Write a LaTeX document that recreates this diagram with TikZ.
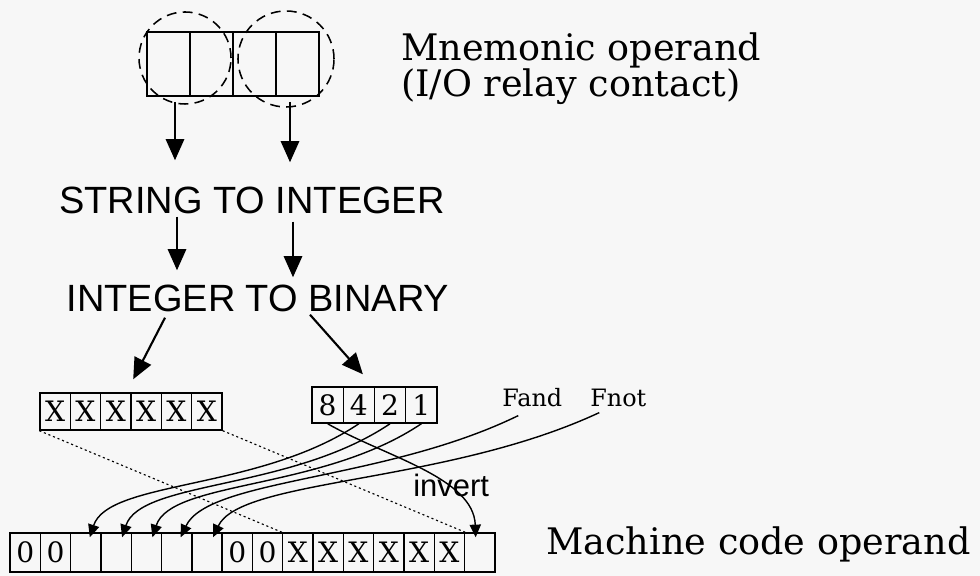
\documentclass[tikz,border=0pt]{standalone}
\usepackage{fontspec}
\setmainfont{DejaVu Serif}
\setsansfont{Liberation Sans}
\usetikzlibrary{arrows.meta,calc}

\begin{document}
\begin{tikzpicture}[x=0.025cm,y=0.025cm,
  cell/.style={draw, line width=1pt, inner sep=0pt, minimum width=0.758cm, minimum height=0.925cm, font=\fontsize{20}{22}\selectfont},
  bigcell/.style={draw, line width=1pt, inner sep=0pt, minimum width=1.075cm, minimum height=1.6cm},
  opcircle/.style={draw, circle, dash pattern=on 7pt off 4.5pt, line width=1.1pt, inner sep=0pt},
  hand/.style={font=\sffamily\fontsize{27}{30}\selectfont, inner sep=0pt},
  label/.style={font=\fontsize{26}{25.6}\selectfont, inner sep=0pt},
  small/.style={font=\fontsize{17}{19}\selectfont, inner sep=0pt},
  bigarr/.style={line width=1.5pt, -{Triangle[length=15pt,width=13pt]}},
  curvearr/.style={line width=1pt, -{Triangle[length=9pt,width=8pt]}},
  dotline/.style={line width=0.8pt, dash pattern=on 1.5pt off 2pt}]
\useasboundingbox (0,0) rectangle (980,576);
\fill[black!3] (0,0) rectangle (980,576);

% Draw the mnemonic operand box
\node[bigcell] (tb1) at (168.5,512) {};
\node[bigcell] (tb2) at (211.5,512) {};
\node[bigcell] (tb3) at (254.5,512) {};
\node[bigcell] (tb4) at (297.5,512) {};
% Draw the dashed circles round the two halves
\node[opcircle, minimum size=2.3cm] (opA) at (185,518) {};
\node[opcircle, minimum size=2.4cm] (opB) at (286,517) {};
\node[label, align=left, anchor=north west] (mnem) at (401,544) {Mnemonic operand\\(I/O relay contact)};

% The two conversion steps
\node[hand] (s2i) at (252,376) {STRING TO INTEGER};
\node[hand] (i2b) at (258,278) {INTEGER TO BINARY};
\draw[bigarr] ($(opA.south)+(-10,3)$) -- ($(opA.south |- s2i.north)+(-10,26)$);
\draw[bigarr] ($(opB.south)+(4,6)$) -- ($(opB.south |- s2i.north)+(4,24)$);
\draw[bigarr] ($(s2i.south)+(-75,-3)$) -- ($(s2i.south |- i2b.north)+(-75,14)$);
\draw[bigarr] ($(s2i.south)+(41,-8)$) -- ($(s2i.south |- i2b.north)+(41,7)$);

% Draw the XXXXXX box
\node[cell] (x1) at (55.2,164.5) {X};
\node[cell] (x2) at (85.5,164.5) {X};
\node[cell] (x3) at (115.8,164.5) {X};
\node[cell] (x4) at (146.2,164.5) {X};
\node[cell] (x5) at (176.5,164.5) {X};
\node[cell] (x6) at (206.8,164.5) {X};
% Draw the 8421 box
\node[cell, minimum width=0.781cm, minimum height=0.9cm] (b8) at (327.6,171) {8};
\node[cell, minimum width=0.781cm, minimum height=0.9cm] (b4) at (358.9,171) {4};
\node[cell, minimum width=0.781cm, minimum height=0.9cm] (b2) at (390.1,171) {2};
\node[cell, minimum width=0.781cm, minimum height=0.9cm] (b1) at (421.4,171) {1};
\draw[bigarr] ($(i2b.south)+(-93,-6)$) -- ($(x4.north)+(-13,13)$);
\draw[bigarr] ($(i2b.south)+(52,-3)$) -- ($(b4.north)+(4,12)$);

% Draw the machine code operand
\node[cell, minimum height=0.975cm] (m1) at (25.2,23.5) {0};
\node[cell, minimum height=0.975cm] (m2) at (55.5,23.5) {0};
\node[cell, minimum height=0.975cm] (m3) at (85.8,23.5) {};
\node[cell, minimum height=0.975cm] (m4) at (116.1,23.5) {};
\node[cell, minimum height=0.975cm] (m5) at (146.4,23.5) {};
\node[cell, minimum height=0.975cm] (m6) at (176.7,23.5) {};
\node[cell, minimum height=0.975cm] (m7) at (207.0,23.5) {};
\node[cell, minimum height=0.975cm] (m8) at (237.3,23.5) {0};
\node[cell, minimum height=0.975cm] (m9) at (267.6,23.5) {0};
\node[cell, minimum height=0.975cm] (m10) at (297.9,23.5) {X};
\node[cell, minimum height=0.975cm] (m11) at (328.2,23.5) {X};
\node[cell, minimum height=0.975cm] (m12) at (358.5,23.5) {X};
\node[cell, minimum height=0.975cm] (m13) at (388.8,23.5) {X};
\node[cell, minimum height=0.975cm] (m14) at (419.1,23.5) {X};
\node[cell, minimum height=0.975cm] (m15) at (449.4,23.5) {X};
\node[cell, minimum height=0.975cm] (m16) at (479.7,23.5) {};
\node[label, anchor=base west] (mco) at (546,21) {Machine code operand};

% Flags and the invert label
\node[small, anchor=base west] (fand) at (502,169) {Fand};
\node[small, anchor=base west] (fnot) at (590,169) {Fnot};
\node[font=\sffamily\fontsize{22}{24}\selectfont, inner sep=0pt, anchor=base west] (inv) at (413,79) {invert};

% Dotted lines from the XXXXXX box
\draw[dotline] (x1.south west) -- (m10.north west);
\draw[dotline] (x6.south east) -- (m15.north east);

% Bits into the machine code
\draw[curvearr] (b8.south) .. controls +(-30:65) and +(92:60) .. ($(m16.north)+(-4,-5)$);
\draw[curvearr] (b4.south) .. controls +(214:120) and +(72:60) .. ($(m3.north)+(4,-5)$);
\draw[curvearr] (b2.south) .. controls +(214:120) and +(72:60) .. ($(m4.north)+(6,-5)$);
\draw[curvearr] (b1.south) .. controls +(214:120) and +(72:60) .. ($(m5.north)+(6,-5)$);
\draw[curvearr] ($(fand.south)+(-14,-8)$) .. controls +(206:150) and +(65:65) .. ($(m6.north)+(4,-5)$);
\draw[curvearr] ($(fnot.south)+(-19,-5)$) .. controls +(205:170) and +(65:65) .. ($(m7.north)+(6,-5)$);
\end{tikzpicture}
\end{document}
